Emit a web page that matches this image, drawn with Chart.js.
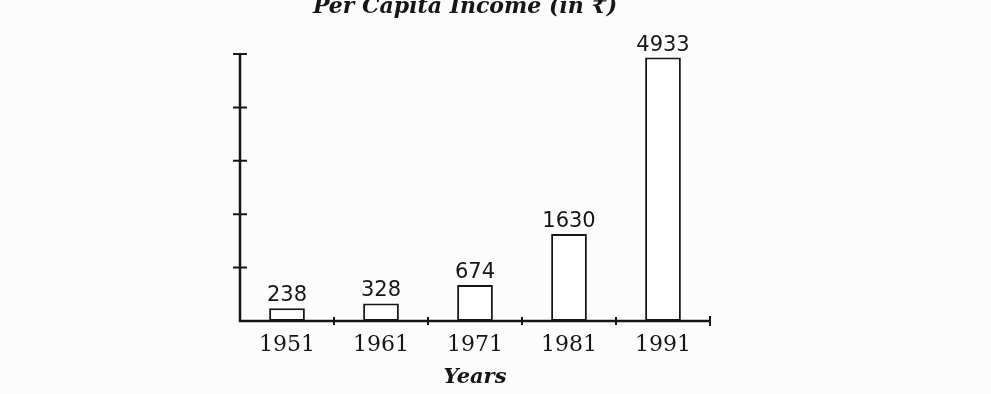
<!DOCTYPE html>
<html>
<head>
<meta charset="utf-8">
<script src="https://cdn.jsdelivr.net/npm/chart.js@4.4.1/dist/chart.umd.min.js"></script>
<style>
  html,body{margin:0;padding:0;background:#fcfcfc;}
  #wrap{width:991px;height:394px;position:relative;}
</style>
</head>
<body>
<div id="wrap"><canvas id="pci" width="991" height="394"></canvas></div>
<script>
// data
const years = ['1951','1961','1971','1981','1991'];
const income = [238, 328, 674, 1630, 4933];
const yTicks = [1000, 2000, 3000, 4000, 5000];
const chartTitle = 'Per Capita Income (in \u20B9)';
const xTitle = 'Years';

const INK = '#161616';

// title sits half off the top edge of the scan
const titlePlugin = {
  id:'scanTitle',
  afterDraw(chart){
    const ctx = chart.ctx;
    ctx.save();
    ctx.fillStyle = INK;
    ctx.font = 'italic bold 22px "DejaVu Serif"';
    ctx.textAlign = 'center';
    ctx.textBaseline = 'alphabetic';
    ctx.fillText(chartTitle, 465, 13);
    ctx.restore();
  }
};

// hand drawn looking axes with ticks crossing the line
const axesPlugin = {
  id:'scanAxes',
  afterDatasetsDraw(chart){
    const {ctx, scales:{x, y}} = chart;
    const x0 = x.left, y0 = y.getPixelForValue(0);
    ctx.save();
    ctx.strokeStyle = INK;
    ctx.lineWidth = 2.5;
    ctx.lineCap = 'butt';
    ctx.beginPath();
    ctx.moveTo(x0, y0 + 1);
    ctx.lineTo(x0, y.getPixelForValue(yTicks[yTicks.length-1]));
    ctx.moveTo(x0 - 1, y0);
    ctx.lineTo(x.right, y0);
    ctx.stroke();
    ctx.lineWidth = 2;
    ctx.beginPath();
    for(const v of yTicks){
      const py = y.getPixelForValue(v);
      ctx.moveTo(x0 - 7, py);
      ctx.lineTo(x0 + 7, py);
    }
    const half = (x.getPixelForValue(1) - x.getPixelForValue(0)) / 2;
    for(let i=0;i<years.length;i++){
      const px = x.getPixelForValue(i) + half;
      const h = i === years.length-1 ? 5 : 4;
      ctx.moveTo(px, y0 - h);
      ctx.lineTo(px, y0 + h);
    }
    ctx.stroke();
    ctx.restore();
  }
};

const valuePlugin = {
  id:'barValues',
  afterDatasetsDraw(chart){
    const ctx = chart.ctx;
    const meta = chart.getDatasetMeta(0);
    ctx.save();
    ctx.fillStyle = INK;
    ctx.font = '21px "DejaVu Sans"';
    ctx.textAlign = 'center';
    ctx.textBaseline = 'alphabetic';
    meta.data.forEach((bar, i)=>{
      ctx.fillText(String(income[i]), bar.x, bar.y - 7);
    });
    ctx.restore();
  }
};

new Chart(document.getElementById('pci'), {
  type:'bar',
  data:{
    labels: years,
    datasets:[{
      data: income,
      backgroundColor:'#ffffff',
      borderColor: INK,
      borderWidth: 2,
      borderSkipped: false,
      categoryPercentage: 1,
      barPercentage: 0.38
    }]
  },
  options:{
    responsive:false,
    animation:false,
    devicePixelRatio:1,
    layout:{ padding:{ left:240, right:281, top:54, bottom:0 } },
    plugins:{ legend:{display:false}, tooltip:{enabled:false}, title:{display:false} },
    scales:{
      x:{
        offset:true,
        grid:{ display:false, drawTicks:false, offset:true },
        border:{ display:false },
        ticks:{ color:INK, font:{ family:'DejaVu Serif', size:22 }, padding:11, maxRotation:0 },
        title:{ display:true, text:xTitle, color:INK,
                font:{ family:'DejaVu Serif', size:21, style:'italic', weight:'bold' },
                padding:{ top:0, bottom:4 } },
        afterFit(s){ s.height = 73; }
      },
      y:{
        min:0, max:5000,
        grid:{ display:false, drawTicks:false },
        border:{ display:false },
        ticks:{ display:false, stepSize:1000 },
        afterFit(s){ s.width = 0; }
      }
    }
  },
  plugins:[titlePlugin, axesPlugin, valuePlugin]
});
</script>
</body>
</html>
